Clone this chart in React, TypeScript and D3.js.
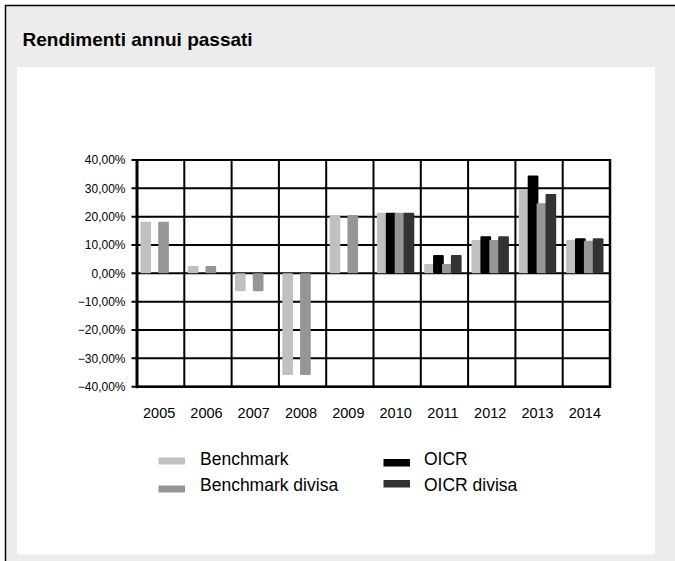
import React from "react";
import * as d3 from "d3";

const years = ["2005", "2006", "2007", "2008", "2009", "2010", "2011", "2012", "2013", "2014"];
const seriesNames = ["Benchmark", "OICR", "Benchmark divisa", "OICR divisa"];
const seriesColors = ["#c0c0c0", "#000000", "#969696", "#333333"];
const benchmark = [18.2, 2.6, -6.3, -35.9, 20.6, 21.4, 3.3, 11.8, 29.7, 11.8];
const oicr: (number | null)[] = [null, null, null, null, null, 21.4, 6.5, 13.1, 34.5, 12.4];
const benchmarkDivisa = [18.2, 2.6, -6.3, -35.9, 20.6, 21.4, 3.3, 11.8, 24.7, 11.5];
const oicrDivisa: (number | null)[] = [null, null, null, null, null, 21.4, 6.5, 13.1, 28.0, 12.4];
const yTicks = [40, 30, 20, 10, 0, -10, -20, -30, -40];
const title = "Rendimenti annui passati";

const FONT = "'Liberation Sans', Arial, Helvetica, sans-serif";

export default function App() {
  const W = 675, H = 561;
  const left = 137, right = 610, top = 160, bottom = 386.7;
  const x = d3.scaleBand<string>().domain(years).range([left, right]).padding(0);
  const inner = d3.scaleBand<string>().domain(seriesNames).range([3.4, 3.4 + 35.6]).padding(0);
  const barW = inner.bandwidth() * 1.2;
  const y = d3.scaleLinear().domain([-40, 40]).range([bottom, top]);
  const fmt = (v: number) => d3.format(".2f")(v).replace(".", ",") + "%";
  const data = [benchmark, oicr, benchmarkDivisa, oicrDivisa];

  const legend = [
    { name: seriesNames[0], color: seriesColors[0], sx: 158.5, sy: 457.5, sh: 7, tx: 200, ty: 465 },
    { name: seriesNames[2], color: seriesColors[2], sx: 158.5, sy: 485.5, sh: 7, tx: 200, ty: 490.5 },
    { name: seriesNames[1], color: seriesColors[1], sx: 383.5, sy: 459, sh: 7.5, tx: 424, ty: 465 },
    { name: seriesNames[3], color: seriesColors[3], sx: 383.5, sy: 480, sh: 7.5, tx: 424, ty: 490.5 },
  ];

  return (
    <svg width={W} height={H} style={{ position: "absolute", left: 0, top: 0, display: "block" }} fontFamily={FONT}>
      <rect x={0} y={0} width={W} height={H} fill="#ffffff" />
      <rect x={5.5} y={5.5} width={W + 10} height={H + 10} fill="#ececec" stroke="#000" strokeWidth={1.5} />
      <rect x={17} y={67} width={638} height={487.3} fill="#ffffff" />
      <text x={22.5} y={46} fontSize={19} fontWeight="bold" fill="#000">{title}</text>

      {/* horizontal gridlines and ticks */}
      {yTicks.map((t) => (
        <g key={t}>
          <line x1={131.5} x2={right} y1={y(t)} y2={y(t)} stroke="#000" strokeWidth={2} />
          <text x={125.5} y={y(t)} dy="0.35em" textAnchor="end" fontSize={12} fill="#000">{fmt(t)}</text>
        </g>
      ))}
      {/* vertical gridlines */}
      {years.slice(1).map((yr) => (
        <line key={yr} x1={x(yr)!} x2={x(yr)!} y1={top} y2={bottom} stroke="#000" strokeWidth={2} />
      ))}

      {/* bars */}
      {years.map((yr, i) => (
        <g key={yr}>
          {data.map((s, k) => {
            const v = s[i];
            if (v === null || v === undefined) return null;
            const bx = x(yr)! + inner(seriesNames[k])!;
            const y0 = y(0), y1 = y(v);
            return (
              <rect key={k} x={bx} y={Math.min(y0, y1)} width={barW} height={Math.abs(y1 - y0)}
                fill={seriesColors[k]} rx={1} />
            );
          })}
        </g>
      ))}

      {/* frame */}
      <line x1={left} x2={left} y1={top - 1} y2={bottom + 1.5} stroke="#000" strokeWidth={3} />
      <line x1={left} x2={right + 1} y1={bottom} y2={bottom} stroke="#000" strokeWidth={2.5} />
      <line x1={right} x2={right} y1={top - 1} y2={bottom + 1} stroke="#000" strokeWidth={2.5} />
      <line x1={left} x2={right + 1} y1={top} y2={top} stroke="#000" strokeWidth={2} />

      {/* x labels */}
      {years.map((yr) => (
        <text key={yr} x={x(yr)! + x.bandwidth() / 2 - 1.5} y={417.5} textAnchor="middle" fontSize={14.5} fill="#000">{yr}</text>
      ))}

      {/* legend */}
      {legend.map((l) => (
        <g key={l.name}>
          <rect x={l.sx} y={l.sy} width={26.5} height={l.sh} fill={l.color} />
          <text x={l.tx} y={l.ty} fontSize={17.5} fill="#000">{l.name}</text>
        </g>
      ))}
    </svg>
  );
}
